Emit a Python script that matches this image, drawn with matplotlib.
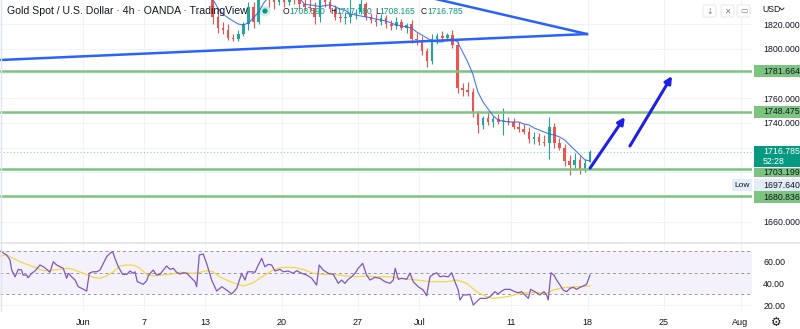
import numpy as np
import matplotlib
matplotlib.use('Agg')
import matplotlib.pyplot as plt
from matplotlib.patches import Rectangle, Circle, FancyBboxPatch
from matplotlib.transforms import blended_transform_factory

plt.rcParams['font.family'] = ['Liberation Sans', 'DejaVu Sans']

# ---- data (x axis = trading days from Jun 1) ----
tick_days = [0, 4, 8, 13, 18, 22, 28, 33, 38, 43]
tick_labels = ['Jun', '7', '13', '20', '27', 'Jul', '11', '18', '25', 'Aug']
price_ticks = [1660, 1680, 1700, 1720, 1740, 1760, 1780, 1800, 1820]
price_hidden = [1680, 1700, 1720, 1780]  # covered by the tags on the scale

first_bar_day = 8  # Jun 13, 8h bars, 3 per trading day
bar_open = [1872, 1852, 1826, 1817, 1815, 1809, 1808, 1812, 1820, 1834, 1822, 1850,
            1848, 1840, 1838, 1840, 1838, 1840, 1839, 1836, 1834, 1833, 1826, 1840,
            1838, 1832, 1826, 1825, 1826, 1828, 1830, 1836, 1826, 1823, 1822, 1825,
            1820, 1818, 1822, 1817, 1820, 1808, 1807, 1798, 1790, 1808, 1810, 1809,
            1811, 1803, 1768, 1767, 1765, 1748, 1738, 1744, 1741, 1743, 1741, 1742,
            1741, 1737, 1735, 1733, 1727, 1729, 1725, 1724, 1737, 1724, 1720, 1709,
            1706, 1710, 1703, 1708.59]
bar_high = [1875, 1855, 1833, 1822, 1820, 1812, 1815, 1822, 1838, 1838, 1857, 1856,
            1852, 1845, 1844, 1845, 1843, 1844, 1845, 1842, 1840, 1838, 1845, 1847,
            1842, 1835, 1830, 1830, 1841, 1832, 1841, 1838, 1829, 1828, 1828, 1827,
            1823, 1826, 1824, 1821, 1823, 1813, 1810, 1801, 1812, 1813, 1814, 1813,
            1815, 1806, 1772, 1773, 1768, 1750, 1746, 1749, 1746, 1747, 1752, 1745,
            1744, 1741, 1739, 1737, 1733, 1732, 1730, 1745, 1740, 1728, 1723, 1714,
            1716, 1713, 1711, 1717.78]
bar_low = [1850, 1820, 1813, 1812, 1807, 1806, 1806, 1810, 1815, 1817, 1820, 1843,
           1834, 1832, 1835, 1834, 1835, 1836, 1832, 1831, 1830, 1820, 1822, 1834,
           1830, 1823, 1822, 1820, 1821, 1824, 1828, 1823, 1821, 1818, 1819, 1817,
           1815, 1816, 1815, 1813, 1805, 1803, 1795, 1785, 1788, 1804, 1806, 1806,
           1801, 1764, 1762, 1762, 1745, 1732, 1735, 1738, 1737, 1739, 1730, 1738,
           1735, 1733, 1731, 1724, 1723, 1722, 1721, 1711, 1720, 1718, 1705, 1697.64,
           1702, 1699, 1700, 1708.165]
bar_close = [1852, 1826, 1817, 1815, 1809, 1808, 1812, 1820, 1834, 1822, 1850, 1848,
             1840, 1838, 1840, 1838, 1840, 1839, 1836, 1834, 1833, 1826, 1840, 1838,
             1832, 1826, 1825, 1826, 1828, 1828, 1836, 1826, 1823, 1822, 1825, 1820,
             1818, 1822, 1817, 1819, 1808, 1807, 1798, 1790, 1808, 1810, 1809, 1811,
             1803, 1768, 1767, 1765, 1748, 1738, 1744, 1741, 1743, 1741, 1742, 1741,
             1737, 1735, 1733, 1727, 1729, 1725, 1724, 1737, 1724, 1720, 1709, 1706,
             1710, 1703, 1708, 1716.785]
ema = [1846, 1840, 1833, 1828, 1825, 1822.4, 1820, 1819.2, 1821, 1825, 1829.7, 1837,
       1842, 1845, 1846, 1846, 1845, 1843, 1841, 1836, 1835.4, 1835, 1834, 1835,
       1835.4, 1834, 1832, 1831, 1828, 1827.3, 1826.5, 1825.7, 1825, 1824, 1823.2, 1822.4,
       1820.8, 1819.2, 1818.4, 1817.6, 1816.8, 1813.5, 1811.1, 1808.7, 1806.3, 1805.5, 1805.5, 1807.1,
       1807.9, 1805.5, 1797.4, 1789.3, 1779.6, 1765, 1757, 1751.3, 1745.7, 1742.4, 1741.6, 1740.8,
       1740.8, 1740.8, 1739.2, 1738.4, 1736, 1734.4, 1732.7, 1731.1, 1730.3, 1728.7, 1726.3, 1722.2,
       1718.2, 1714.2, 1710.1, 1709.3]

levels = [1781.664, 1748.475, 1703.199, 1680.836]
last_price = 1716.785
session_low = 1697.640
ohlc = [('O', 1708.590), ('H', 1717.780), ('L', 1708.165), ('C', 1716.785)]

trend_low = [(-5.41, 1790.9), (32.96, 1811.9)]
trend_high = [(20.74, 1846.9), (32.96, 1811.9)]
arrows = [((33.17, 1703.6), (35.44, 1744.8)), ((35.77, 1721.4), (38.52, 1778.0))]

rsi_points = [(-5.41, 69.7), (-4.97, 66.1), (-4.75, 61.5), (-4.64, 52.3), (-4.42, 46.1), (-4.21, 52.9),
              (-3.99, 52.3), (-3.90, 47.7), (-3.66, 47.7), (-3.57, 45.2), (-3.33, 49.3), (-3.12, 51.4),
              (-2.79, 56.9), (-2.57, 55.3), (-2.35, 52.9), (-2.14, 50.2), (-1.92, 59.9), (-1.70, 56.9),
              (-1.48, 55.3), (-1.27, 53.9), (-1.05, 44.7), (-0.94, 49.3), (-0.72, 46.1), (-0.50, 43.1),
              (-0.29, 37.0), (-0.07, 35.5), (0.26, 33.0), (0.43, 49.3), (0.65, 50.7), (0.92, 50.7),
              (1.13, 52.3), (1.35, 58.4), (1.57, 64.5), (1.78, 67.6), (1.96, 69.1), (2.11, 63.0),
              (2.33, 55.3), (2.61, 48.3), (2.88, 48.3), (3.09, 51.4), (3.31, 49.3), (3.42, 50.7),
              (3.57, 41.6), (3.96, 39.2), (4.18, 42.5), (4.29, 47.1), (4.61, 52.3), (4.84, 47.7),
              (5.05, 48.3), (5.27, 52.3), (5.49, 56.0), (5.71, 52.9), (5.92, 53.9), (6.14, 50.2),
              (6.36, 48.6), (6.58, 49.8), (6.80, 49.3), (7.12, 44.7), (7.34, 41.6), (7.45, 37.0),
              (7.62, 66.1), (7.88, 67.0), (8.10, 58.4), (8.43, 43.1), (8.76, 33.0), (9.09, 37.0),
              (9.41, 33.9), (9.74, 30.3), (10.07, 35.5), (10.39, 49.3), (10.61, 43.1), (10.78, 50.7),
              (11.05, 50.7), (11.26, 50.2), (11.48, 56.9), (11.70, 63.0), (11.91, 55.3), (12.13, 57.5),
              (12.35, 56.9), (12.57, 51.4), (12.90, 52.9), (13.11, 50.7), (13.44, 51.4), (13.76, 49.3),
              (13.99, 51.7), (14.31, 49.3), (14.64, 47.7), (14.97, 44.7), (15.29, 38.5), (15.46, 56.9),
              (15.72, 52.3), (16.05, 49.3), (16.38, 48.3), (16.71, 40.1), (16.93, 43.1), (17.14, 40.1),
              (17.36, 43.8), (17.58, 46.1), (17.80, 49.3), (18.01, 53.9), (18.30, 58.4), (18.56, 47.7),
              (18.78, 43.1), (19.10, 45.6), (19.43, 44.7), (19.76, 41.6), (20.09, 40.1), (20.30, 43.1),
              (20.43, 53.9), (20.63, 43.8), (20.85, 44.7), (21.18, 43.8), (21.39, 49.5), (21.61, 41.5),
              (21.93, 37.0), (22.26, 33.9), (22.48, 28.7), (22.70, 46.1), (22.91, 48.3), (23.14, 49.8),
              (23.35, 46.1), (23.57, 46.8), (23.90, 46.1), (24.12, 49.8), (24.33, 41.6), (24.55, 33.9),
              (24.66, 24.8), (24.88, 29.4), (25.10, 29.4), (25.31, 30.0), (25.53, 20.2), (25.75, 23.2),
              (25.97, 26.3), (26.18, 26.3), (26.40, 26.3), (26.62, 27.8), (26.95, 32.4), (27.16, 30.3),
              (27.39, 33.0), (27.60, 34.6), (27.93, 34.6), (28.25, 32.4), (28.47, 31.5), (28.69, 32.4),
              (28.91, 29.4), (29.13, 26.3), (29.28, 34.6), (29.56, 32.4), (29.89, 29.4), (30.15, 32.4),
              (30.33, 29.4), (30.43, 24.8), (30.61, 49.8), (30.80, 47.7), (30.98, 43.1), (31.20, 38.5),
              (31.41, 33.9), (31.63, 32.4), (31.85, 35.5), (32.07, 36.4), (32.29, 34.6), (32.50, 36.4),
              (32.72, 37.6), (32.94, 39.2), (33.16, 47.7)]
rsi_ma_points = [(-5.41, 65.1), (-4.97, 66.1), (-4.10, 59.9), (-3.23, 55.3), (-2.57, 51.7), (-1.92, 52.3),
                 (-1.05, 53.9), (-0.72, 53.2), (0.04, 49.3), (0.69, 45.6), (1.13, 44.7), (1.57, 46.8),
                 (2.00, 50.7), (2.44, 56.0), (2.88, 56.9), (3.31, 56.9), (3.75, 53.9), (4.18, 48.3),
                 (4.61, 46.8), (5.05, 47.7), (5.71, 48.3), (6.36, 50.2), (6.80, 49.8), (7.23, 49.3),
                 (7.67, 50.2), (8.10, 51.7), (8.54, 50.7), (8.97, 46.1), (9.63, 41.6), (10.50, 37.6),
                 (11.15, 40.6), (11.80, 46.8), (12.46, 52.3), (12.90, 54.4), (13.76, 54.8), (14.42, 52.9),
                 (15.07, 49.3), (15.72, 48.3), (16.38, 48.3), (17.03, 47.1), (17.91, 46.1), (18.56, 46.8),
                 (19.22, 46.1), (20.09, 46.1), (20.74, 44.7), (21.83, 43.1), (22.70, 41.6), (23.79, 41.6),
                 (24.45, 43.1), (25.10, 40.1), (25.75, 32.4), (26.40, 27.8), (26.84, 26.3), (27.28, 26.9),
                 (27.93, 28.4), (28.58, 30.9), (29.24, 31.8), (29.89, 31.5), (30.33, 30.9), (30.76, 33.9),
                 (31.41, 36.1), (32.29, 37.0), (33.16, 37.6)]

# ---- colours ----
UP, DOWN = '#26a69a', '#ef5350'
TEXT = '#131722'
GRID = '#f0f3fa'
LEVEL = '#7cc47f'

W, H = 800, 329
fig = plt.figure(figsize=(W / 100, H / 100), dpi=100)
fig.patch.set_facecolor('white')


def px_box(x0, y0, x1, y1):
    return [x0 / W, 1 - y1 / H, (x1 - x0) / W, (y1 - y0) / H]


ax = fig.add_axes(px_box(0, 0, 752, 243))
ax2 = fig.add_axes(px_box(0, 243, 752, 311), sharex=ax)

ymin, ymax = 1643.0, 1839.4
ax.set_xlim(-5.405, 43.75)
ax.set_ylim(ymin, ymax)
unit = (ymax - ymin) / 243  # price per pixel

# grid
for a in (ax, ax2):
    a.set_xticks(tick_days)
    a.grid(True, color=GRID, lw=0.8)
    for s in a.spines.values():
        s.set_visible(False)
    a.tick_params(length=0, colors=TEXT)
    a.yaxis.tick_right()

ax.set_yticks(price_ticks)
ax.set_yticklabels(['' if v in price_hidden else f'{v:.3f}' for v in price_ticks])
ax.tick_params(axis='y', labelsize=6.3, pad=8)
ax.tick_params(axis='x', labelbottom=False)

# candles
n = len(bar_close)
xs = first_bar_day + (np.arange(n) + 0.5) / 3
o, h, l, c = map(np.array, (bar_open, bar_high, bar_low, bar_close))
cols = np.where(c >= o, UP, DOWN)
ax.vlines(xs, l, h, colors=cols, lw=0.8, zorder=2)
ax.bar(xs, np.maximum(np.abs(c - o), 0.5), bottom=np.minimum(o, c), width=0.17,
       color=cols, zorder=2, linewidth=0)
ax.plot(xs, ema, color='#2962ff', lw=0.8, alpha=0.85, zorder=3)

# support / resistance levels, last price line
for lv in levels:
    ax.axhline(lv, color=LEVEL, lw=1.8, zorder=2.5)
ax.axhline(last_price, color='#089981', lw=0.8, ls=(0, (1, 2)), alpha=0.45, zorder=1.6)

# trend lines and arrows
for seg in (trend_low, trend_high):
    ax.plot([seg[0][0], seg[1][0]], [seg[0][1], seg[1][1]], color='#2962ff', lw=1.8, zorder=4)
for start, end in arrows:
    ax.annotate('', xy=end, xytext=start,
                arrowprops=dict(arrowstyle='-|>', color='#1f1fe8', lw=2.2,
                                mutation_scale=10, shrinkA=0, shrinkB=0), zorder=5)

# price tags on the right scale
tr = blended_transform_factory(ax.transAxes, ax.transData)
x0, x1 = 754 / 752, 800 / 752
xt = 763 / 752


def tag(value, text, fc, tc, shift=0.0, top=6, bottom=6):
    yc = value - shift * unit
    ax.add_patch(Rectangle((x0, yc - bottom * unit), x1 - x0, (top + bottom) * unit,
                           transform=tr, clip_on=False, fc=fc, ec='none', zorder=5))
    ax.text(xt, yc, text, transform=tr, clip_on=False, fontsize=6.3, color=tc,
            va='center', ha='left', zorder=6)


tag(levels[0], f'{levels[0]:.3f}', LEVEL, TEXT, shift=-0.4)
tag(levels[1], f'{levels[1]:.3f}', LEVEL, TEXT, shift=-0.5)
tag(levels[2], f'{levels[2]:.3f}', LEVEL, TEXT, shift=3.5, top=4.5, bottom=5)
tag(levels[3], f'{levels[3]:.3f}', LEVEL, TEXT, shift=1)
tag(session_low, f'{session_low:.3f}', '#e3ecf9', TEXT, shift=9.8)
ax.add_patch(Rectangle((732 / 752, session_low - 15.8 * unit), 20 / 752, 12 * unit,
                       transform=tr, clip_on=False, fc='#e3ecf9', ec='none', zorder=5))
ax.text(742 / 752, session_low - 9.8 * unit, 'Low', transform=tr, clip_on=False,
        fontsize=6, color=TEXT, ha='center', va='center', zorder=6)
# last price with countdown
ax.add_patch(Rectangle((x0, last_price - 15.3 * unit), x1 - x0, 21 * unit, transform=tr,
                       clip_on=False, fc='#089981', ec='none', zorder=5))
ax.text(xt, last_price, f'{last_price:.3f}', transform=tr, clip_on=False, fontsize=6.3,
        color='white', va='center', zorder=6)
ax.text(xt, last_price - 10 * unit, '52:28', transform=tr, clip_on=False, fontsize=6.3,
        color='white', va='center', zorder=6)

# ---- RSI pane ----
ax2.set_ylim(14.7, 77.1)
ax2.axhspan(30, 70, color='#7e57c2', alpha=0.08, lw=0)
for lv in (70, 50, 30):
    ax2.axhline(lv, color='#9598a1', lw=0.7, ls=(0, (3, 3)))
rd, rv = zip(*rsi_points)
md, mv = zip(*rsi_ma_points)
ax2.plot(md, mv, color='#f5d742', lw=0.9)
ax2.plot(rd, rv, color='#7e57c2', lw=0.9)
ax2.set_yticks([20, 40, 60])
ax2.set_yticklabels(['20.00', '40.00', '60.00'])
ax2.tick_params(axis='y', labelsize=6.3, pad=8)
ax2.set_xticklabels(tick_labels)
ax2.tick_params(axis='x', labelsize=6.5, pad=5)

# ---- chart chrome (header, buttons, separators) ----
ui = fig.add_axes([0, 0, 1, 1])
ui.set_xlim(0, W)
ui.set_ylim(H, 0)
ui.axis('off')
ui.set_zorder(10)
ui.patch.set_alpha(0)

ui.text(7, 11, 'Gold Spot / U.S. Dollar · 4h · OANDA · TradingView', fontsize=7.6,
        color=TEXT, va='center')
ui.add_patch(Circle((265, 11), 5.5, color='#089981', alpha=0.18, lw=0))
ui.add_patch(Circle((265, 11), 2.6, color='#089981', lw=0))
for x, (letter, val), lw_ in zip((283, 330, 375, 421), ohlc, (6.7, 6.2, 4.8, 6.2)):
    ui.text(x, 11, letter, fontsize=6.2, color=TEXT, va='center')
    ui.text(x + lw_, 11, f'{val:.3f}', fontsize=6.2, color='#089981', va='center')

for bx, glyph in ((703, '↓'), (721, '✕'), (737, '▭')):
    ui.add_patch(FancyBboxPatch((bx, 5), 13, 12, boxstyle='round,pad=0,rounding_size=2',
                                fc='white', ec='#e0e3eb', lw=0.6))
    ui.text(bx + 6.5, 11, glyph, fontsize=5.5, color='#787b86', ha='center', va='center',
            family=['DejaVu Sans'])
ui.text(762, 9, 'USD', fontsize=6.3, color=TEXT, va='center')
ui.plot([780, 782, 784], [8, 10, 8], color=TEXT, lw=0.6)
ui.text(776, 322, '⚙', fontsize=8.5, color=TEXT, ha='center', va='center',
        family=['DejaVu Sans'])
ui.plot([0, W], [242.5, 242.5], color='#e0e3eb', lw=1.2)
ui.plot([0.5, 0.5], [0, 311], color='#e0e3eb', lw=1)

fig.savefig('out.png', dpi=100)
